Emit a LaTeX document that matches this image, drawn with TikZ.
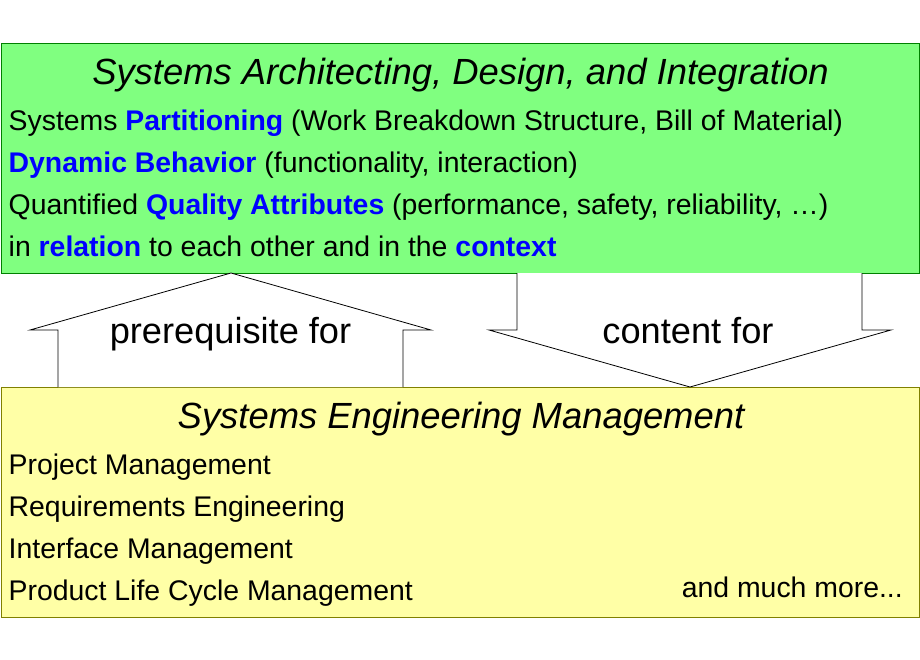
\documentclass[tikz,border=0pt]{standalone}
\usepackage{fontspec}
\setmainfont{Liberation Sans}
\usetikzlibrary{calc}
\definecolor{boxgreen}{RGB}{128,255,128}
\definecolor{greenline}{RGB}{0,128,0}
\definecolor{boxyellow}{RGB}{255,255,166}
\definecolor{yellowline}{RGB}{128,128,0}
\definecolor{keyblue}{RGB}{0,0,255}
\newcommand{\kw}[1]{\textcolor{keyblue}{\textbf{#1}}}
\tikzset{
  greenbox/.style={draw=greenline, fill=boxgreen, line width=0.8pt, minimum width=918pt, minimum height=230pt, inner sep=0pt},
  yellowbox/.style={draw=yellowline, fill=boxyellow, line width=0.8pt, minimum width=918pt, minimum height=230pt, inner sep=0pt},
  titletext/.style={anchor=base, inner sep=0pt, font=\fontsize{36.4}{40}\selectfont\itshape},
  linetext/.style={anchor=base west, inner sep=0pt, font=\fontsize{28.4}{32}\selectfont},
  arrowtext/.style={anchor=base, inner sep=0pt, font=\fontsize{36.2}{40}\selectfont},
  blockarrow/.style={draw=black, fill=white, line width=0.8pt, line join=miter}
}
\begin{document}
\begin{tikzpicture}[x=1pt,y=-1pt]
\useasboundingbox (0,0) rectangle (920,660);
% boxes
\node[greenbox] (arch) at (460,158) {};
\node[yellowbox] (mgmt) at (460,502) {};
% block arrows
\coordinate (upApex) at (231,273);
\coordinate (downApex) at (690,387);
\draw[blockarrow] (58,387) -- (58,330) -- (30,330) -- (upApex) -- (431,330) -- (403,330) -- (403,387);
\draw[blockarrow] (517,273) -- (517,330) -- (489,330) -- (downApex) -- (891,330) -- (862,330) -- (862,273);
\node[arrowtext] (prereq) at (230.5,343) {prerequisite for};
\node[arrowtext] (content) at (688,343) {content for};
% green box text
\node[titletext] (archtitle) at (460.5,84.5) {Systems Architecting, Design, and Integration};
\node[linetext] (a1) at (8.5,130.5) {Systems \kw{Partitioning} (Work Breakdown Structure, Bill of Material)};
\node[linetext] (a2) at (8.5,172.5) {\kw{Dynamic Behavior} (functionality, interaction)};
\node[linetext] (a3) at (8.5,214.5) {Quantified \kw{Quality Attributes} (performance, safety, reliability, \dots)};
\node[linetext] (a4) at (8.5,256.5) {in \kw{relation} to each other and in the \kw{context}};
% yellow box text
\node[titletext] (mgmttitle) at (461,428.5) {Systems Engineering Management};
\node[linetext] (m1) at (8.5,474.5) {Project Management};
\node[linetext] (m2) at (8.5,516.5) {Requirements Engineering};
\node[linetext] (m3) at (8.5,558.5) {Interface Management};
\node[linetext] (m4) at (8.5,600.5) {Product Life Cycle Management};
\node[linetext, anchor=base east] (more) at (903,597.5) {and much more...};
\end{tikzpicture}
\end{document}
